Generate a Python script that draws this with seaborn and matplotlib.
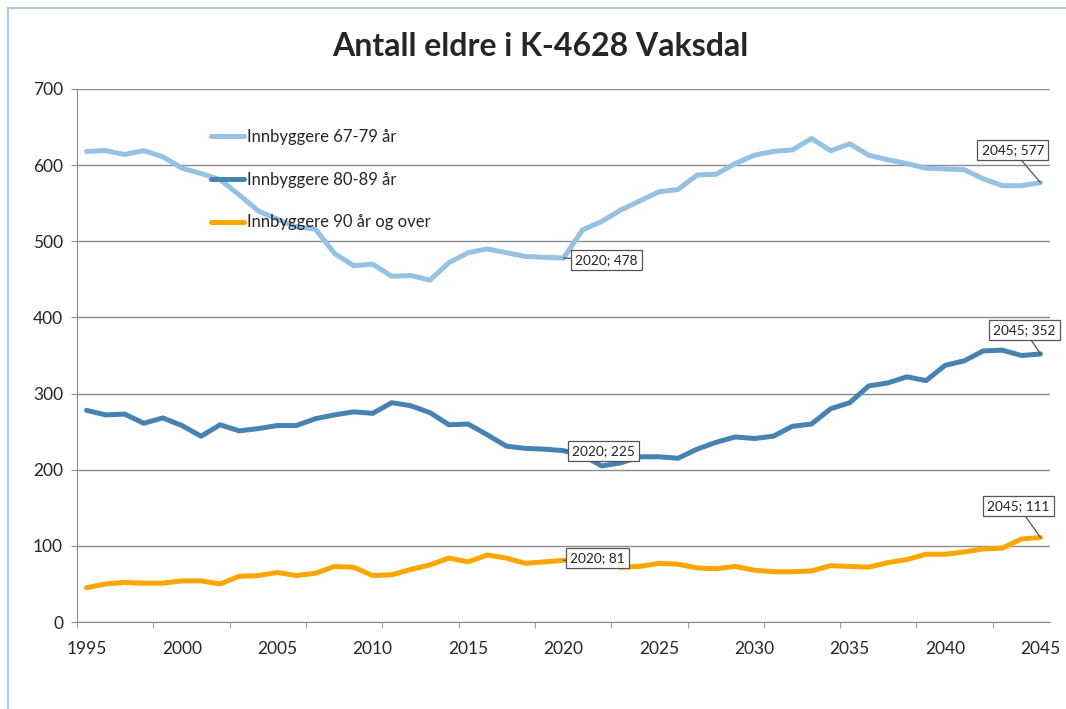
import numpy as np
import pandas as pd
import matplotlib; matplotlib.use("Agg"); import matplotlib.pyplot as plt
import seaborn as sns
from matplotlib.lines import Line2D
from matplotlib.patches import Rectangle

years = list(range(1995, 2046))
age_67_79 = [618, 619, 614, 619, 611, 596, 589, 581, 561, 540, 529, 519, 516, 484, 468, 470,
             454, 455, 449, 472, 485, 490, 485, 480, 479, 478,
             515, 526, 541, 553, 565, 568, 587, 588, 602, 613, 618, 620, 635, 619, 628,
             613, 607, 602, 596, 595, 594, 582, 573, 573, 577]
age_80_89 = [278, 272, 273, 261, 268, 258, 244, 259, 251, 254, 258, 258, 267, 272, 276, 274,
             288, 284, 275, 259, 260, 246, 231, 228, 227, 225,
             219, 205, 209, 217, 217, 215, 227, 236, 243, 241, 244, 257, 260, 280, 288,
             310, 314, 322, 317, 337, 343, 356, 357, 350, 352]
age_90 = [45, 50, 52, 51, 51, 54, 54, 50, 60, 61, 65, 61, 64, 73, 72, 61,
          62, 69, 75, 84, 79, 88, 84, 77, 79, 81,
          79, 76, 72, 73, 77, 76, 71, 70, 73, 68, 66, 66, 67, 74, 73,
          72, 78, 82, 89, 89, 92, 96, 97, 109, 111]
series_names = ["Innbyggere 67-79 år", "Innbyggere 80-89 år", "Innbyggere 90 år og over"]
colors = ["#95c1e3", "#4683b1", "#ffa500"]
title = "Antall eldre i K-4628 Vaksdal"
label_years = [2020, 2045]

df = pd.DataFrame({"year": years * 3,
                   "value": age_67_79 + age_80_89 + age_90,
                   "series": sum([[s] * len(years) for s in series_names], [])})

sns.set_style("white")
plt.rcParams["font.family"] = ["Lato", "DejaVu Sans"]

fig = plt.figure(figsize=(10.66, 7.09), dpi=100)
ax = fig.add_axes([0.0722, 0.1227, 0.9128, 0.7518])
sns.lineplot(data=df, x="year", y="value", hue="series", palette=colors,
             linewidth=3.6, ax=ax, legend=False)

ax.set_xlim(1994.5, 2045.5); ax.set_ylim(0, 700)
ax.set_yticks(range(0, 701, 100))
ax.yaxis.grid(True, color="#8c8c8c", lw=1); ax.xaxis.grid(False)
ax.set_xticks(range(1995, 2046, 5))
ax.set_xticks(np.arange(1994.5, 2045, 4), minor=True)
ax.tick_params(axis="x", which="major", length=0, pad=14, labelsize=12.5)
ax.tick_params(axis="x", which="minor", length=4, color="#8c8c8c", direction="out")
ax.tick_params(axis="y", length=4, color="#8c8c8c", direction="out", labelsize=12.5, pad=6)
ax.tick_params(bottom=True, left=True, which="both")
for sp in ["top", "right"]:
    ax.spines[sp].set_visible(False)
for sp in ["left", "bottom"]:
    ax.spines[sp].set_color("#8c8c8c")
ax.set_xlabel(""); ax.set_ylabel("")

handles = [Line2D([0], [0], color=c, lw=3.6) for c in colors]
ax.legend(handles, series_names, frameon=False, loc="upper left",
          bbox_to_anchor=(0.122, 0.953), labelspacing=1.6, handlelength=2.0,
          handletextpad=0.15, fontsize=12)

# data labels (callouts)
offsets = {(0, 2020): (31, -1.5), (1, 2020): (29, 0), (2, 2020): (24.5, 1.5),
           (0, 2045): (-20, 23.5), (1, 2045): (-11.5, 17), (2, 2045): (-16, 22.5)}
for i, vals in enumerate([age_67_79, age_80_89, age_90]):
    for yr in label_years:
        v = vals[years.index(yr)]
        ax.annotate(f"{yr}; {v}", xy=(yr, v), xytext=offsets[(i, yr)],
                    textcoords="offset points", ha="center", va="center", fontsize=9.8,
                    color="#222222",
                    bbox=dict(boxstyle="square,pad=0.3", fc="white", ec="#555555", lw=0.9),
                    arrowprops=dict(arrowstyle="-", color="#555555", lw=0.9,
                                    shrinkA=0, shrinkB=0))

fig.text(0.507, 0.934, title, ha="center", va="center", fontsize=23, fontweight="bold")
fig.patches.append(Rectangle((0.0075, -0.1), 1.1, 1.0887, transform=fig.transFigure,
                             fill=False, ec="#a9c9e6", lw=1.5))
plt.savefig("out.png", dpi=100)
